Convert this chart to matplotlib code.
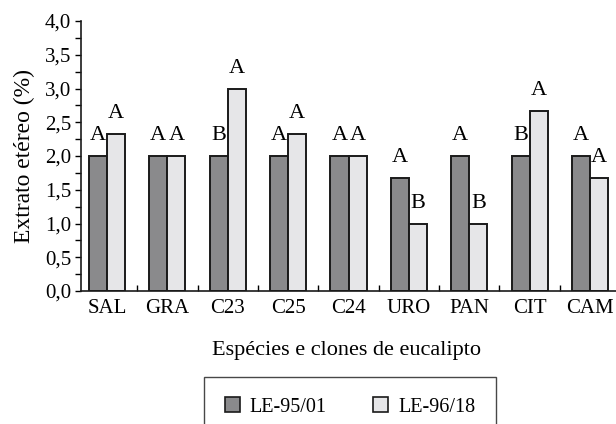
import matplotlib
matplotlib.use("Agg")
import matplotlib.pyplot as plt
import numpy as np
from matplotlib.ticker import MultipleLocator, FixedLocator
from matplotlib.patches import Patch

categories = ["SAL", "GRA", "C23", "C25", "C24", "URO", "PAN", "CIT", "CAM"]
le9501 = [2.0, 2.0, 2.0, 2.0, 2.0, 1.67, 2.0, 2.0, 2.0]
le9618 = [2.33, 2.0, 3.0, 2.33, 2.0, 1.0, 1.0, 2.67, 1.67]
letters_9501 = ["A", "A", "B", "A", "A", "A", "A", "B", "A"]
letters_9618 = ["A", "A", "A", "A", "A", "B", "B", "A", "A"]
series_names = ["LE-95/01", "LE-96/18"]

plt.rcParams['font.family'] = ['Liberation Serif', 'DejaVu Serif']

fig = plt.figure(figsize=(6.16, 4.24), dpi=100)
ax = fig.add_axes([81/616, 1-291/424, 1-81/616, (291-21)/424])

dark = "#8a8a8c"
light = "#e6e6e8"
edge = "#1a1a1a"
w = 0.3
x = np.arange(len(categories))
ax.bar(x - w/2, le9501, width=w, color=dark, edgecolor=edge, linewidth=1.4)
ax.bar(x + w/2, le9618, width=w, color=light, edgecolor=edge, linewidth=1.4)

for i in range(len(categories)):
    ax.text(x[i] - w/2, le9501[i] + 0.16, letters_9501[i], ha="center", va="bottom", fontsize=16)
    ax.text(x[i] + w/2, le9618[i] + 0.16, letters_9618[i], ha="center", va="bottom", fontsize=16)

ax.set_xlim(-0.43, 8.43)
ax.set_ylim(0, 4.0)
ax.spines['top'].set_visible(False)
ax.spines['right'].set_visible(False)
for s in ['left', 'bottom']:
    ax.spines[s].set_linewidth(1.2)
    ax.spines[s].set_color(edge)

ax.yaxis.set_minor_locator(MultipleLocator(0.25))
ax.set_yticks(np.arange(0, 4.01, 0.5))
ax.set_yticklabels([f"{v:.1f}".replace(".", ",") for v in np.arange(0, 4.01, 0.5)])
ax.tick_params(axis='y', which='both', direction='out', length=4, width=1, labelsize=15, pad=3)

ax.set_xticks(x)
ax.set_xticklabels(categories)
ax.xaxis.set_minor_locator(FixedLocator(np.arange(0.5, len(categories) - 0.5, 1)))
ax.tick_params(axis='x', which='major', length=0, labelsize=15, pad=6)
ax.tick_params(axis='x', which='minor', direction='in', length=4, width=1)

ax.set_ylabel("Extrato etéreo (%)", fontsize=17, labelpad=7)
fig.text(347/616, 1-351/424, "Espécies e clones de eucalipto", ha="center", va="center", fontsize=16)

handles = [Patch(facecolor=dark, edgecolor=edge, linewidth=1.2, label=series_names[0]),
           Patch(facecolor=light, edgecolor=edge, linewidth=1.2, label=series_names[1])]
leg = fig.legend(handles=handles, loc="upper center", bbox_to_anchor=(350/616, 1-377/424),
                 ncol=2, frameon=True, fancybox=False, fontsize=14.5, handlelength=0.75,
                 handleheight=0.75, columnspacing=2.3, borderpad=1.0, handletextpad=0.5,
                 borderaxespad=0)
leg.get_frame().set_edgecolor(edge)
leg.get_frame().set_linewidth(1.0)

fig.savefig("out.png", dpi=100)
